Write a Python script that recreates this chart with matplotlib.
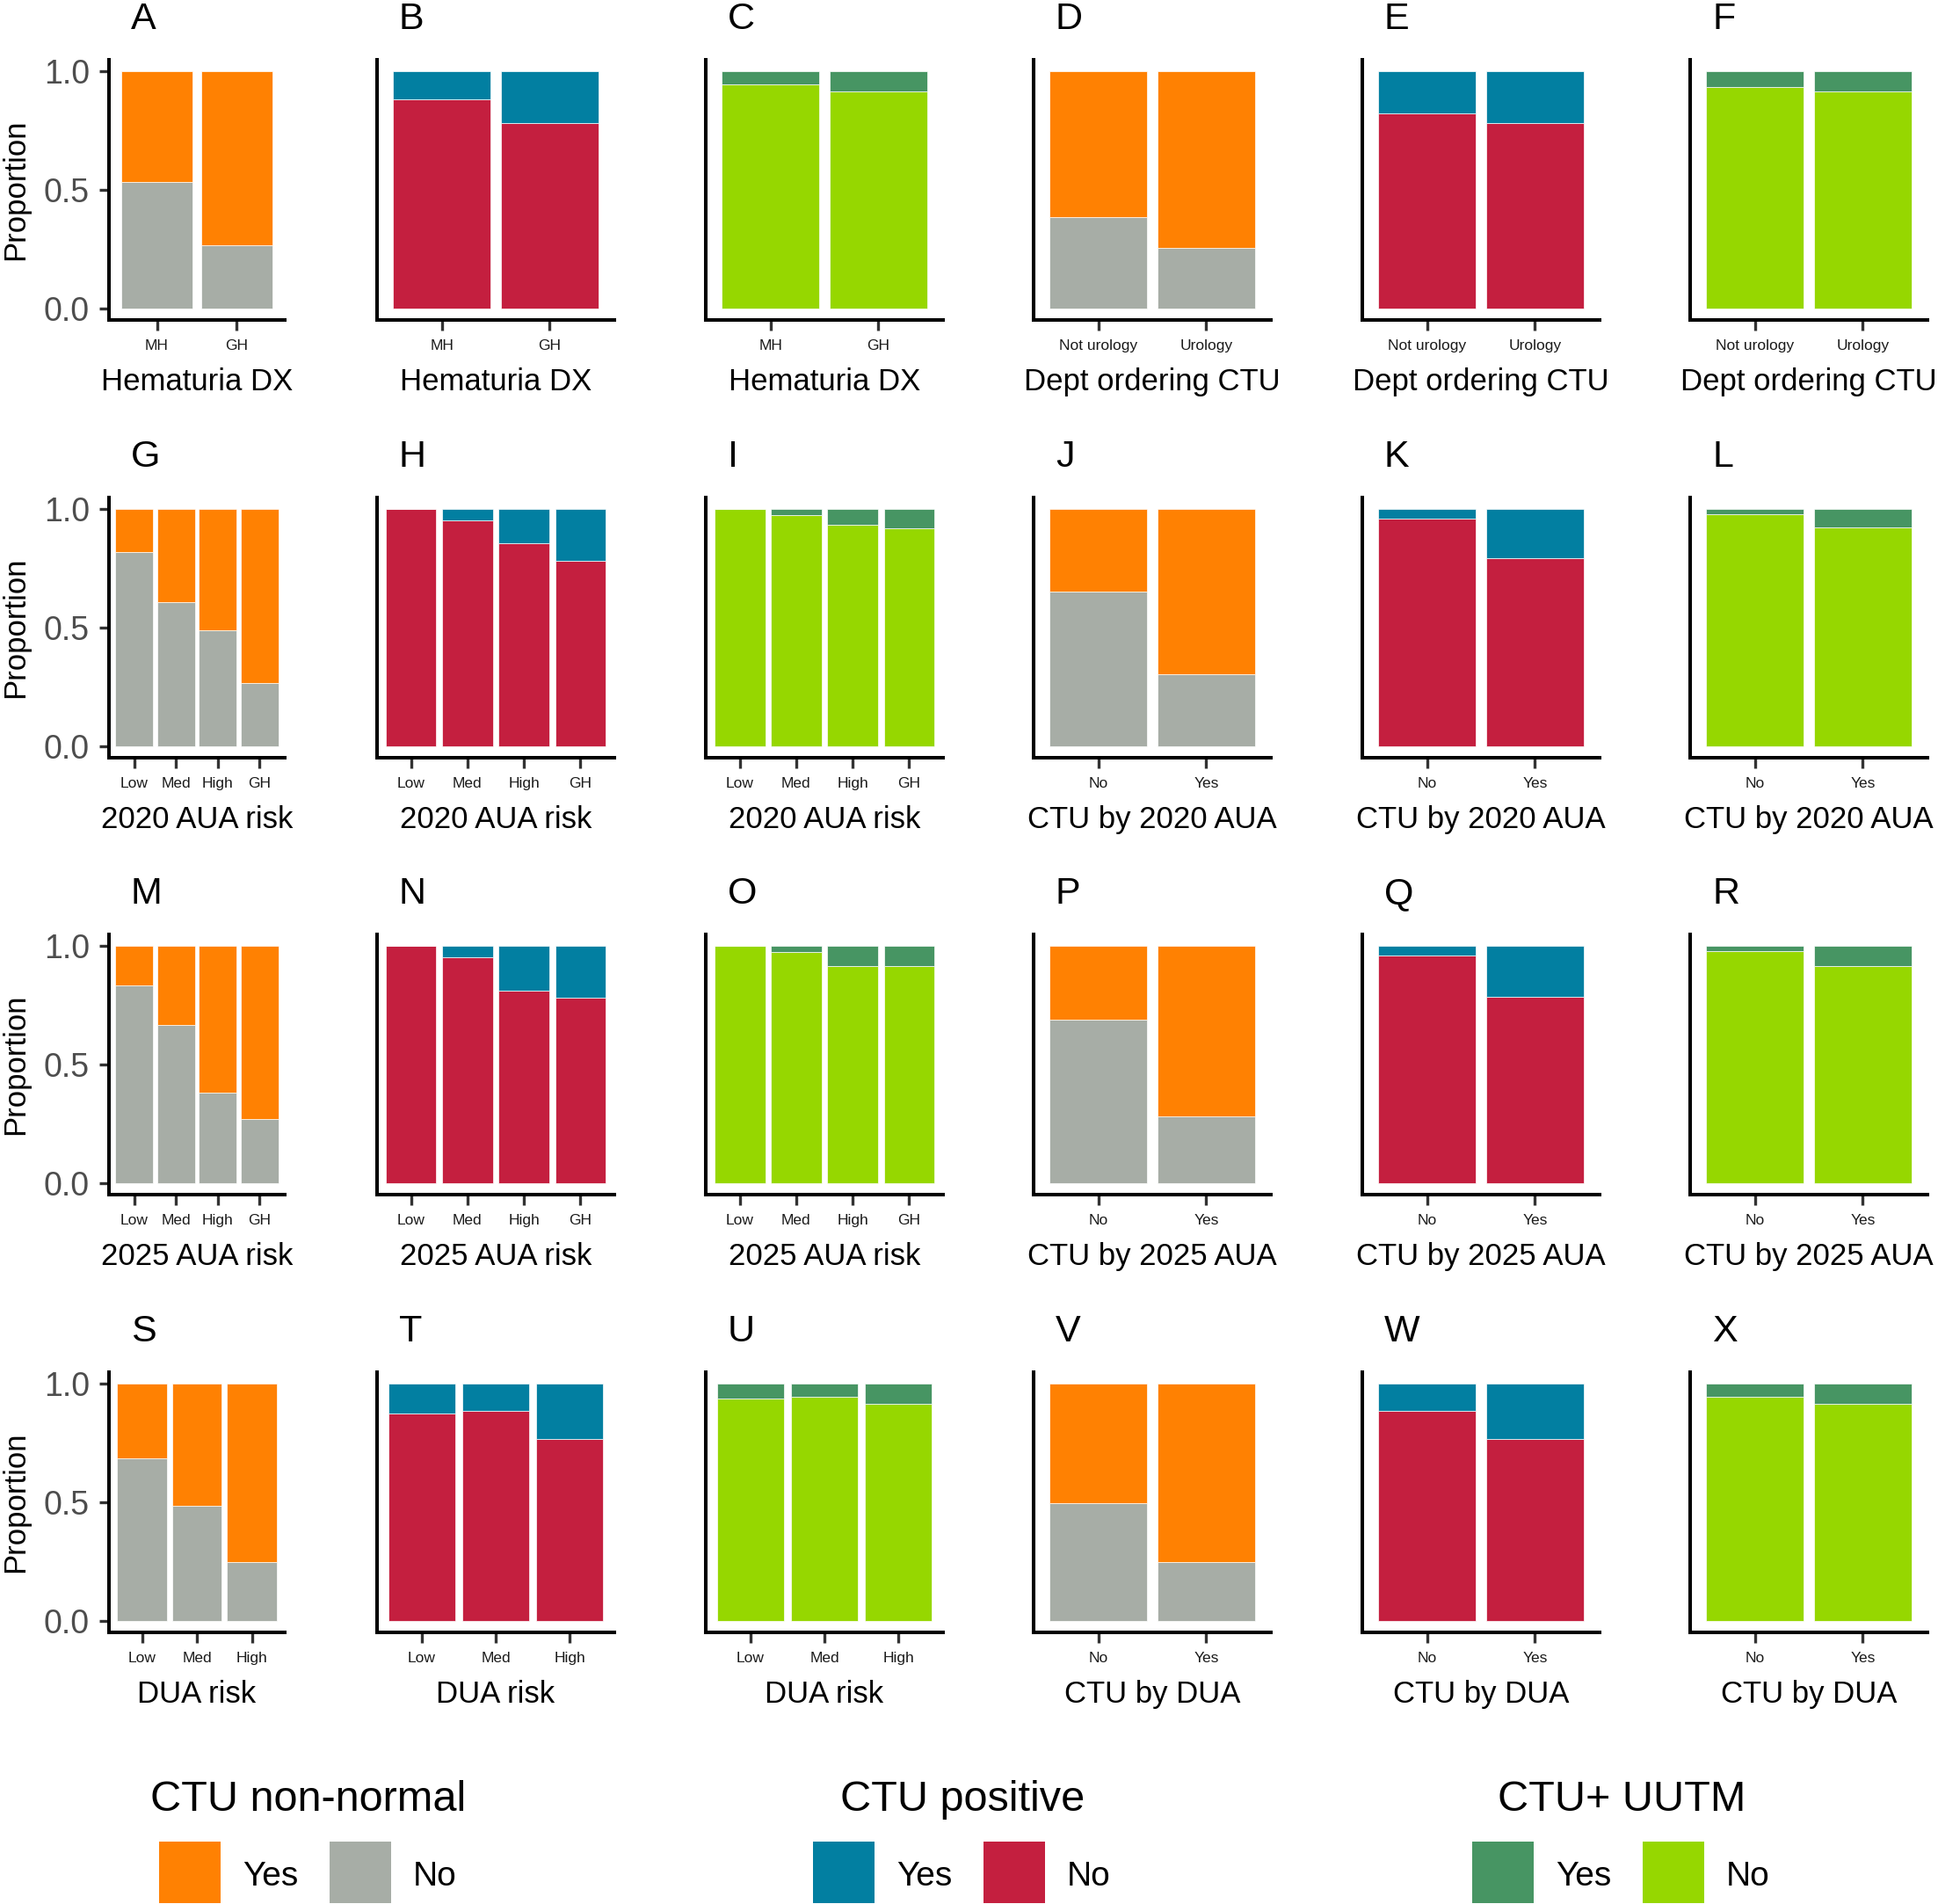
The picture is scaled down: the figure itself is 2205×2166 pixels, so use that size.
import matplotlib
matplotlib.use("Agg")
import matplotlib.pyplot as plt
from matplotlib.patches import Rectangle

plt.rcParams['font.family'] = ['Liberation Sans', 'DejaVu Sans']

# ---------------- data ----------------
hematuria_cats = ["MH", "GH"]
dept_cats = ["Not urology", "Urology"]
risk4_cats = ["Low", "Med", "High", "GH"]
yesno_cats = ["No", "Yes"]
dua_cats = ["Low", "Med", "High"]

# proportion "No" (bottom segment) for each panel
A_nonnormal_no = [0.532, 0.266]
B_positive_no = [0.884, 0.782]
C_uutm_no = [0.947, 0.916]
D_nonnormal_no = [0.384, 0.256]
E_positive_no = [0.823, 0.782]
F_uutm_no = [0.933, 0.916]
G_nonnormal_no = [0.820, 0.609, 0.490, 0.267]
H_positive_no = [1.000, 0.952, 0.857, 0.782]
I_uutm_no = [1.000, 0.977, 0.936, 0.920]
J_nonnormal_no = [0.654, 0.302]
K_positive_no = [0.962, 0.792]
L_uutm_no = [0.980, 0.922]
M_nonnormal_no = [0.834, 0.668, 0.380, 0.270]
N_positive_no = [1.000, 0.953, 0.812, 0.782]
O_uutm_no = [1.000, 0.977, 0.917, 0.918]
P_nonnormal_no = [0.688, 0.280]
Q_positive_no = [0.960, 0.785]
R_uutm_no = [0.980, 0.918]
S_nonnormal_no = [0.686, 0.485, 0.249]
T_positive_no = [0.875, 0.886, 0.768]
U_uutm_no = [0.938, 0.946, 0.916]
V_nonnormal_no = [0.495, 0.249]
W_positive_no = [0.886, 0.768]
X_uutm_no = [0.946, 0.916]

row_xlabels = [
    ["Hematuria DX"] * 3 + ["Dept ordering CTU"] * 3,
    ["2020 AUA risk"] * 3 + ["CTU by 2020 AUA"] * 3,
    ["2025 AUA risk"] * 3 + ["CTU by 2025 AUA"] * 3,
    ["DUA risk"] * 3 + ["CTU by DUA"] * 3,
]
row_cats = [
    [hematuria_cats] * 3 + [dept_cats] * 3,
    [risk4_cats] * 3 + [yesno_cats] * 3,
    [risk4_cats] * 3 + [yesno_cats] * 3,
    [dua_cats] * 3 + [yesno_cats] * 3,
]
row_values = [
    [A_nonnormal_no, B_positive_no, C_uutm_no, D_nonnormal_no, E_positive_no, F_uutm_no],
    [G_nonnormal_no, H_positive_no, I_uutm_no, J_nonnormal_no, K_positive_no, L_uutm_no],
    [M_nonnormal_no, N_positive_no, O_uutm_no, P_nonnormal_no, Q_positive_no, R_uutm_no],
    [S_nonnormal_no, T_positive_no, U_uutm_no, V_nonnormal_no, W_positive_no, X_uutm_no],
]
panel_letters = list("ABCDEFGHIJKLMNOPQRSTUVWX")

legend_titles = ["CTU non-normal", "CTU positive", "CTU+ UUTM"]
legend_labels = ["Yes", "No"]
yes_colors = ["#FF8102", "#027FA1", "#479563"]
no_colors = ["#A7ADA6", "#C41F3F", "#96D700"]
outcome_of_col = [0, 1, 2, 0, 1, 2]

# ---------------- layout ----------------
W, H = 2205, 2166
fig = plt.figure(figsize=(W / 100, H / 100), dpi=100)

col_left = [124, 429, 803, 1176, 1550, 1923]
col_width = [200, 270, 270, 270, 270, 270]
row_top = [68, 566, 1063, 1561]
ax_h = 296

def fx(px):
    return px / W

def fy(py):
    return 1 - py / H

for r in range(4):
    for c in range(6):
        left = col_left[c]
        top = row_top[r]
        ax = fig.add_axes([fx(left), fy(top + ax_h), col_width[c] / W, ax_h / H])
        cats = row_cats[r][c]
        no_vals = row_values[r][c]
        yes_vals = [1 - v for v in no_vals]
        k = outcome_of_col[c]
        x = list(range(len(cats)))
        ax.bar(x, no_vals, width=0.9, color=no_colors[k], edgecolor="white", linewidth=0.5)
        ax.bar(x, yes_vals, bottom=no_vals, width=0.9, color=yes_colors[k],
               edgecolor="white", linewidth=0.5)
        ax.set_xlim(-0.6, len(cats) - 0.4)
        ax.set_ylim(-0.05, 1.05)
        ax.set_xticks(x)
        ax.set_xticklabels(cats, fontsize=12.5, color="#1A1A1A")
        for s in ["top", "right"]:
            ax.spines[s].set_visible(False)
        for s in ["left", "bottom"]:
            ax.spines[s].set_linewidth(2.9)
            ax.spines[s].set_color("black")
        ax.tick_params(axis="x", length=8.6, width=2.4, color="#333333", pad=7)
        if c == 0:
            ax.set_yticks([0.0, 0.5, 1.0])
            ax.set_yticklabels(["0.0", "0.5", "1.0"], fontsize=27, color="#4D4D4D")
            ax.tick_params(axis="y", length=8, width=2.4, color="#333333", pad=8)
            ax.set_ylabel("Proportion", fontsize=25, color="black")
            ax.yaxis.set_label_coords(-0.45, 0.5)
        else:
            ax.set_yticks([])
        ax.set_xlabel(row_xlabels[r][c], fontsize=25, color="black")
        ax.xaxis.set_label_coords(0.5, -0.183)
        fig.text(fx(left + 25), fy(top - 35), panel_letters[r * 6 + c],
                 fontsize=31, ha="left", va="baseline")

# ---------------- legend ----------------
group_centers = [351, 1095, 1845]
for g in range(3):
    cx = group_centers[g]
    fig.text(fx(cx), fy(2060), legend_titles[g], fontsize=35, ha="center", va="baseline")
    k0 = cx - 170
    key_colors = [yes_colors[g], no_colors[g]]
    for i in range(2):
        kx = k0 + 194 * i
        fig.add_artist(Rectangle((fx(kx), fy(2165)), 70 / W, 70 / H,
                                 transform=fig.transFigure, facecolor=key_colors[i],
                                 edgecolor="none"))
        fig.text(fx(kx + 95), fy(2145), legend_labels[i], fontsize=28,
                 ha="left", va="baseline")

fig.savefig("out.png", dpi=100)
